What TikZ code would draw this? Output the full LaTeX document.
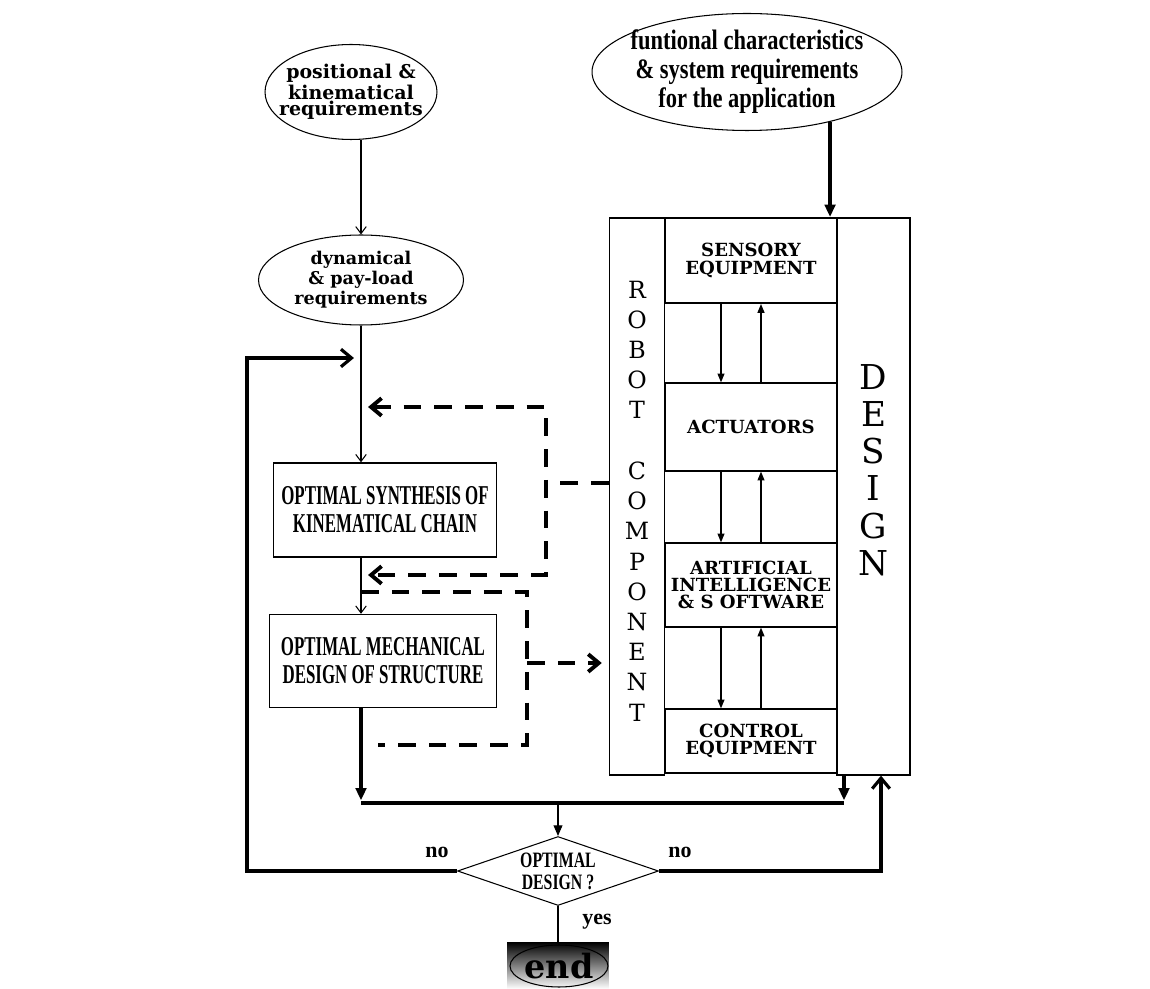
\documentclass[tikz,border=0pt]{standalone}
\usepackage{fontspec}
\setmainfont{DejaVu Serif}
\newfontfamily\narrowfont[FakeStretch=0.62]{Liberation Serif}
\newfontfamily\semifont[FakeStretch=0.72]{Liberation Serif}
\newfontfamily\funcfont[FakeStretch=0.8]{Liberation Serif}
\newfontfamily\plainfont{Liberation Serif}
\usetikzlibrary{shapes.geometric,arrows.meta,positioning}

\tikzset{
  reqell/.style={ellipse, draw, line width=0.6pt, inner xsep=-0.3cm, inner ysep=-0.1cm, align=center},
  optbox/.style={rectangle, draw, line width=0.8pt, align=center, inner sep=0pt,
    font=\narrowfont\bfseries\fontsize{15.5}{16}\selectfont},
  compbox/.style={rectangle, draw, line width=0.8pt, minimum width=3.44cm, inner sep=0pt,
    align=center, font=\bfseries\fontsize{10.3}{9.8}\selectfont},
  colbox/.style={rectangle, draw, line width=0.8pt, minimum height=11.14cm, inner sep=0pt},
  thinarrow/.style={line width=0.6pt, -{Straight Barb[length=4pt,width=6pt]}},
  updown/.style={line width=0.6pt, -{Triangle[length=5pt,width=4pt]}},
  heavy/.style={line width=1.8pt},
  heavyarrow/.style={heavy, -{Triangle[length=7pt,width=6pt]}},
  fbtip/.tip={Straight Barb[length=6pt,width=10pt]},
  backarrow/.style={heavy, -{fbtip}},
  fbline/.style={line width=2.2pt, dash pattern=on 10pt off 7.5pt},
  lbl/.style={font=\plainfont\bfseries\fontsize{12.5}{12.5}\selectfont}
}

\begin{document}
\begin{tikzpicture}[x=0.02cm,y=-0.02cm]
  \useasboundingbox (0,0) rectangle (1150,989);

  % requirements
  \node[reqell, minimum width=3.44cm, minimum height=1.9cm,
    font=\bfseries\fontsize{10.8}{9.4}\selectfont] (posreq) at (351,92)
    {positional \&\\kinematical\\requirements};
  \node[reqell, minimum width=4.1cm, minimum height=1.8cm,
    font=\bfseries\fontsize{10}{11.4}\selectfont] (dynreq) at (361,280)
    {dynamical\\\& pay-load\\requirements};
  \node[reqell, minimum width=6.2cm, minimum height=2.34cm,
    font=\funcfont\bfseries\fontsize{16}{16.5}\selectfont] (funcreq) at (747,72)
    {funtional characteristics\\\& system requirements\\for the application};

  % synthesis steps
  \node[optbox, minimum width=4.46cm, minimum height=1.88cm] (synth) at (385,510)
    {OPTIMAL SYNTHESIS OF\\KINEMATICAL CHAIN};
  \node[optbox, minimum width=4.54cm, minimum height=1.86cm] (mech) at (383,661)
    {OPTIMAL MECHANICAL\\DESIGN OF STRUCTURE};

  % robot component design
  \node[colbox, minimum width=1.1cm] (robot) at (637,496.5) {};
  \node[colbox, minimum width=1.46cm] (design) at (873.5,496.5) {};
  \node[font=\fontsize{13.5}{17.2}\selectfont, align=center, inner sep=0pt] (robottxt) at (637,501)
    {R\\O\\B\\O\\T\\[17.2pt]C\\O\\M\\P\\O\\N\\E\\N\\T};
  \node[font=\fontsize{19.5}{21.2}\selectfont, align=center, inner sep=0pt] (designtxt) at (873.5,470)
    {D\\E\\S\\I\\G\\N};

  \node[compbox, minimum height=1.7cm, line width=1.2pt] (sensor) at (751,260.5) {SENSORY\\EQUIPMENT};
  \node[compbox, minimum height=1.76cm] (act) at (751,427) {ACTUATORS};
  \node[compbox, minimum height=1.68cm] (ai) at (751,585) {ARTIFICIAL\\INTELLIGENCE\\\& S OFTWARE};
  \node[compbox, minimum height=1.28cm] (ctrl) at (751,741) {CONTROL\\EQUIPMENT};

  % decision
  \node[diamond, draw, line width=0.6pt, shape aspect=2.9, minimum width=4.02cm, minimum height=1.38cm,
    inner sep=-3pt, align=center, font=\semifont\bfseries\fontsize{12.5}{12.5}\selectfont] (decide) at (558,871)
    {OPTIMAL\\DESIGN ?};
  \node[rectangle, minimum width=2.04cm, minimum height=0.94cm, inner sep=0pt,
    top color=black, bottom color=white] (endbg) at (558,965.5) {};
  \node[ellipse, draw, line width=0.6pt, minimum width=1.96cm, minimum height=0.84cm, inner sep=0pt,
    inner xsep=-3pt, font=\bfseries\fontsize{19}{19}\selectfont] (endnode) at (559,966) {end};

  \node[lbl] (noleft) at (437,852) {no};
  \node[lbl] (noright) at (680,852) {no};
  \node[lbl] (yeslbl) at (597,922) {yes};

  \coordinate (jl) at (361,803);
  \coordinate (jr) at (844,803);
  \coordinate (loopl) at (247,358);
  \coordinate (loopr) at (881,871);
  \coordinate (downx) at (721,0);
  \coordinate (upx) at (761,0);
  \coordinate (fbtop) at (546,407);
  \coordinate (fbbot) at (546,575);
  \coordinate (fbmid) at (546,483);
  \coordinate (lptop) at (527,592);
  \coordinate (lpbot) at (527,745);
  \coordinate (lpend) at (378,745);
  \coordinate (lpmid) at (527,663);

  % main flow
  \draw[thinarrow] (posreq.south -| dynreq.north) -- (dynreq.north);
  \draw[thinarrow] (dynreq.south) -- (dynreq.south |- synth.north);
  \draw[thinarrow] (synth.south -| dynreq.south) -- (mech.north -| dynreq.south);
  \draw[heavyarrow] (funcreq.-31) -- (funcreq.-31 |- sensor.north);
  \draw[heavyarrow, shorten >=1.5pt] (mech.south -| jl) -- (jl);
  \draw[heavyarrow, shorten >=1.5pt] (design.south -| jr) -- (jr);
  \draw[heavy] (jl) -- (jr);
  \draw[line width=0.6pt, -{Triangle[length=6pt,width=5pt]}] (jl -| decide.north) -- (decide.north);
  \draw[backarrow, shorten >=4pt] (decide.west) -- (decide.west -| loopl) -- (loopl) -- (loopl -| dynreq.south);
  \draw[backarrow] (decide.east) -- (loopr) -- (loopr |- design.south);
  \draw[line width=0.6pt] (decide.south) -- (endbg.north);

  \foreach \a/\b in {sensor/act, act/ai, ai/ctrl}{
    \draw[updown] (\a.south -| downx) -- (\b.north -| downx);
    \draw[updown] (\b.north -| upx) -- (\a.south -| upx);
  }

  % feedback (dashed)
  \draw[fbline] (robot.west |- fbmid) -- (fbmid);
  \draw[fbline, fbtip-fbtip, shorten <=4pt, shorten >=4pt]
    (fbtop -| dynreq.south) -- (fbtop) -- (fbbot) -- (fbbot -| dynreq.south);
  \draw[fbline] (lptop -| dynreq.south) -- (lptop) -- (lpbot) -- (lpend);
  \draw[fbline, -fbtip, shorten >=4pt] (lpmid) -- (robot.west |- lpmid);
\end{tikzpicture}
\end{document}
